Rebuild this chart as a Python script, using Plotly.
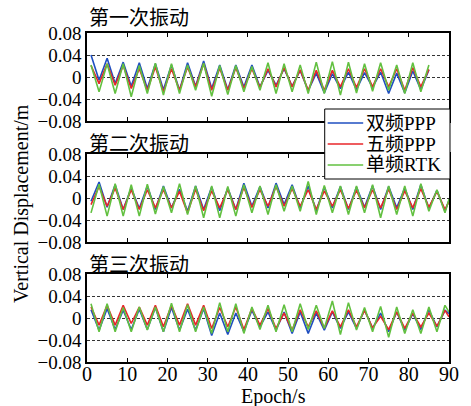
import plotly.graph_objects as go

# ---------------- data (vertical displacement in mm) ----------------
epochs_p1 = list(range(1, 86, 2))
epochs_p23 = list(range(1, 90, 2)) + [90]

series_names = ["双频PPP", "五频PPP", "单频RTK"]

p1_dual_ppp_mm = [40, -6, 34, -12, 27, -17, 26, -21, 24, -23,
                  22, -24, 26, -17, 29, -21, 22, -23, 22, -18,
                  22, -18, 12, -15, 15, -17, 12, -25, 7, -29,
                  6, -21, 9, -23, 8, -19, 9, -30, 7, -29,
                  11, -23, 13]
p1_five_ppp_mm = [21, -12, 24, -15, 21, -21, 15, -24, 18, -27,
                  15, -24, 18, -18, 24, -24, 16, -24, 17, -21,
                  15, -19, 15, -18, 17, -18, 13, -24, 12, -24,
                  12, -18, 15, -19, 15, -18, 15, -18, 15, -24,
                  17, -18, 14]
p1_single_rtk_mm = [22, -27, 24, -30, 24, -36, 21, -30, 25, -33,
                    24, -30, 22, -24, 25, -35, 21, -32, 21, -27,
                    19, -24, 26, -30, 24, -27, 22, -30, 27, -30,
                    28, -33, 27, -29, 24, -26, 26, -24, 22, -30,
                    26, -27, 22]

p2_dual_ppp_mm = [-6, 29, -17, 24, -21, 18, -19, 22, -21, 22,
                  -18, 16, -24, 22, -21, 20, -23, 18, -21, 27,
                  -15, 21, -18, 27, -12, 24, -18, 22, -23, 20,
                  -18, 21, -21, 20, -17, 22, -21, 21, -18, 18,
                  -21, 24, -19, 14, -24, -4]
p2_five_ppp_mm = [-12, 21, -15, 18, -21, 15, -21, 15, -18, 15,
                  -18, 12, -27, 16, -23, 13, -18, 15, -21, 19,
                  -17, 15, -15, 21, -15, 17, -15, 15, -21, 13,
                  -15, 15, -19, 14, -18, 15, -18, 16, -21, 13,
                  -18, 17, -17, 12, -21, -6]
p2_single_rtk_mm = [-27, 25, -33, 26, -33, 24, -33, 25, -29, 21,
                    -27, 26, -30, 22, -36, 22, -36, 21, -33, 24,
                    -27, 22, -30, 24, -24, 22, -24, 30, -30, 23,
                    -27, 22, -30, 22, -27, 24, -36, 22, -30, 22,
                    -33, 26, -24, 15, -27, -2]

p3_dual_ppp_mm = [15, -22, 17, -21, 14, -21, 16, -21, 19, -25,
                  19, -22, 16, -22, 17, -32, 9, -30, 9, -25,
                  14, -16, 11, -22, 11, -28, 11, -28, 9, -22,
                  11, -19, 11, -19, 15, -19, 9, -25, 11, -22,
                  8, -21, 15, -16, 14, 8]
p3_five_ppp_mm = [20, -13, 23, -13, 23, -10, 20, -13, 23, -16,
                  23, -13, 26, -13, 23, -19, 19, -16, 20, -21,
                  17, -13, 17, -19, 9, -22, 15, -16, 13, -18,
                  13, -16, 15, -16, 14, -18, 3, -21, 11, -19,
                  9, -16, 9, -15, 14, 2]
p3_single_rtk_mm = [26, -25, 26, -25, 19, -25, 20, -22, 20, -25,
                    27, -25, 24, -25, 20, -28, 28, -25, 26, -28,
                    20, -21, 23, -25, 24, -25, 26, -21, 23, -19,
                    31, -30, 28, -22, 19, -25, 21, -35, 20, -28,
                    15, -28, 20, -25, 23, 11]

panel_titles = ["第一次振动", "第二次振动", "第三次振动"]
y_tickvals = [-0.08, -0.04, 0, 0.04, 0.08]
y_ticktext = ["−0.08", "−0.04", "0", "0.04", "0.08"]
x_tickvals = [0, 10, 20, 30, 40, 50, 60, 70, 80, 90]

# ---------------- styling ----------------
colors = ["#1f4fc0", "#e8262a", "#62c040"]
serif = "Liberation Serif, Noto Sans CJK SC, serif"

W_PLOT = 367.0  # plot-area width in px
H = 329.0       # plot-area height in px


def px_x(px):
    return (px - 87) / W_PLOT


def px_y(py):
    return (362 - py) / H


fig = go.Figure()

panels = [
    (epochs_p1, [p1_dual_ppp_mm, p1_five_ppp_mm, p1_single_rtk_mm], "x", "y"),
    (epochs_p23, [p2_dual_ppp_mm, p2_five_ppp_mm, p2_single_rtk_mm], "x2", "y2"),
    (epochs_p23, [p3_dual_ppp_mm, p3_five_ppp_mm, p3_single_rtk_mm], "x3", "y3"),
]
for pi, (ep, series, xa, ya) in enumerate(panels):
    for si, vals in enumerate(series):
        fig.add_trace(go.Scatter(
            x=ep, y=[v / 1000 for v in vals], mode="lines",
            line=dict(color=colors[si], width=1.6),
            name=series_names[si], showlegend=False,
            xaxis=xa, yaxis=ya,
        ))

domains = [[241 / H, 1.0], [120 / H, 208 / H], [0.0, 88 / H]]

xcommon = dict(range=[0, 90], tickvals=x_tickvals, ticks="inside", ticklen=4,
               tickcolor="black", showline=True, linecolor="black", linewidth=1.5,
               mirror="ticks", showgrid=False, zeroline=False,
               ticklabelstandoff=-7,
               tickfont=dict(family=serif, size=20, color="black"))
ycommon = dict(range=[-0.08, 0.08], tickvals=y_tickvals, ticktext=y_ticktext,
               ticks="", showline=True, linecolor="black", linewidth=1.5, mirror=True,
               showgrid=True, gridcolor="#333333", gridwidth=1, griddash="3px,2px",
               zeroline=False, tickfont=dict(family=serif, size=19, color="black"))

layout = dict(
    width=471, height=406,
    margin=dict(l=87, r=17, t=33, b=44),
    paper_bgcolor="white", plot_bgcolor="white",
    font=dict(family=serif, color="black"),
    showlegend=False,
)
names_x = ["xaxis", "xaxis2", "xaxis3"]
names_y = ["yaxis", "yaxis2", "yaxis3"]
anch_x = ["x", "x2", "x3"]
anch_y = ["y", "y2", "y3"]
for i in range(3):
    layout[names_x[i]] = dict(xcommon, domain=[0, 1], anchor=anch_y[i],
                              showticklabels=(i == 2))
    layout[names_y[i]] = dict(ycommon, domain=domains[i], anchor=anch_x[i])
fig.update_layout(**layout)

# panel titles
title_py = [17, 142, 263]
for i in range(3):
    fig.add_annotation(text=panel_titles[i], xref="paper", yref="paper",
                       x=0.0, y=px_y(title_py[i]), xanchor="left", yanchor="middle",
                       showarrow=False,
                       font=dict(family="Noto Sans CJK SC", size=20, color="black"))

# axis titles
fig.add_annotation(text="Epoch/s", xref="paper", yref="paper",
                   x=px_x(276), y=px_y(396),
                   xanchor="center", yanchor="middle", showarrow=False,
                   font=dict(family=serif, size=20, color="black"))
fig.add_annotation(text="Vertical Displacement/m", xref="paper", yref="paper",
                   x=px_x(20), y=px_y(203), textangle=-90,
                   xanchor="center", yanchor="middle", showarrow=False,
                   font=dict(family=serif, size=20, color="black"))

# legend box (drawn as decoration on top of the panels)
fig.add_shape(type="rect", xref="paper", yref="paper",
              x0=px_x(328), x1=px_x(455), y0=px_y(179), y1=px_y(109),
              fillcolor="white", line=dict(color="black", width=1), layer="above")
legend_rows_py = [123, 144, 165]
for si in range(3):
    yy = px_y(legend_rows_py[si])
    fig.add_shape(type="line", xref="paper", yref="paper",
                  x0=px_x(331), x1=px_x(367), y0=yy, y1=yy,
                  line=dict(color=colors[si], width=1.5), layer="above")
    fig.add_annotation(text=series_names[si], xref="paper", yref="paper",
                       x=px_x(368), y=yy, xanchor="left", yanchor="middle",
                       showarrow=False,
                       font=dict(family=serif, size=19, color="black"))

fig.write_html("out.html", config={"displayModeBar": False},
               post_script="document.body.style.margin='0';")
